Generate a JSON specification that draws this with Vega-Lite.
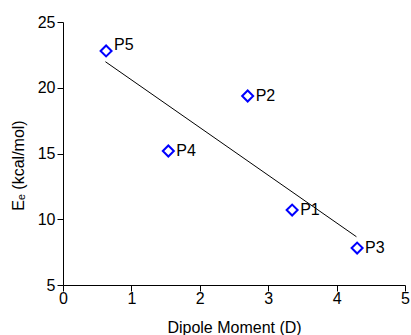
{
  "$schema": "https://vega.github.io/schema/vega-lite/v6.json",
  "width": 342,
  "height": 263,
  "autosize": {"type": "none"},
  "padding": {"left": 63, "top": 22, "right": 6, "bottom": 50},
  "background": "white",
  "config": {
    "view": {"stroke": null},
    "font": "Liberation Sans",
    "axis": {
      "grid": false,
      "domainColor": "black",
      "tickColor": "black",
      "labelColor": "black",
      "titleColor": "black",
      "labelFont": "Liberation Sans",
      "titleFont": "Liberation Sans",
      "labelFontSize": 16,
      "titleFontSize": 16,
      "titleFontWeight": "normal",
      "tickSize": 6
    }
  },
  "datasets": {
    "pts": [
      {"dipole": 3.35, "energy": 10.7, "label": "P1"},
      {"dipole": 2.70, "energy": 19.37, "label": "P2"},
      {"dipole": 4.30, "energy": 7.81, "label": "P3"},
      {"dipole": 1.54, "energy": 15.19, "label": "P4"},
      {"dipole": 0.63, "energy": 22.8, "label": "P5"}
    ],
    "fit": [
      {"dipole": 0.62, "energy": 21.98},
      {"dipole": 4.29, "energy": 8.67}
    ]
  },
  "layer": [
    {
      "data": {"name": "fit"},
      "mark": {"type": "line", "color": "black", "strokeWidth": 1},
      "encoding": {
        "x": {"field": "dipole", "type": "quantitative", "scale": {"domain": [0, 5], "nice": false},
          "axis": {"title": "Dipole Moment (D)", "values": [0, 1, 2, 3, 4, 5], "format": "d", "labelPadding": -1, "labelFlush": false,
            "titleBaseline": "alphabetic", "titleY": 47, "titleX": 171, "titleAlign": "center", "titleAnchor": null}},
        "y": {"field": "energy", "type": "quantitative", "scale": {"domain": [5, 25], "nice": false, "zero": false},
          "axis": {"title": "Eₑ (kcal/mol)", "values": [5, 10, 15, 20, 25], "format": "d", "labelPadding": 2, "labelFlush": false,
            "titleAngle": -90, "titleBaseline": "alphabetic", "titleAlign": "center", "titleX": -40, "titleY": 143}}
      }
    },
    {
      "data": {"name": "pts"},
      "mark": {"type": "point", "shape": "diamond", "filled": false, "color": "#0000ff", "opacity": 1, "strokeWidth": 2, "size": 121},
      "encoding": {
        "x": {"field": "dipole", "type": "quantitative"},
        "y": {"field": "energy", "type": "quantitative"}
      }
    },
    {
      "data": {"name": "pts"},
      "transform": [{"filter": "datum.label !== 'P5'"}],
      "mark": {"type": "text", "align": "left", "baseline": "middle", "dx": 8, "fontSize": 16, "color": "black"},
      "encoding": {
        "x": {"field": "dipole", "type": "quantitative"},
        "y": {"field": "energy", "type": "quantitative"},
        "text": {"field": "label"}
      }
    },
    {
      "data": {"name": "pts"},
      "transform": [{"filter": "datum.label === 'P5'"}],
      "mark": {"type": "text", "align": "left", "baseline": "middle", "dx": 8, "dy": -6, "fontSize": 16, "color": "black"},
      "encoding": {
        "x": {"field": "dipole", "type": "quantitative"},
        "y": {"field": "energy", "type": "quantitative"},
        "text": {"field": "label"}
      }
    }
  ]
}
